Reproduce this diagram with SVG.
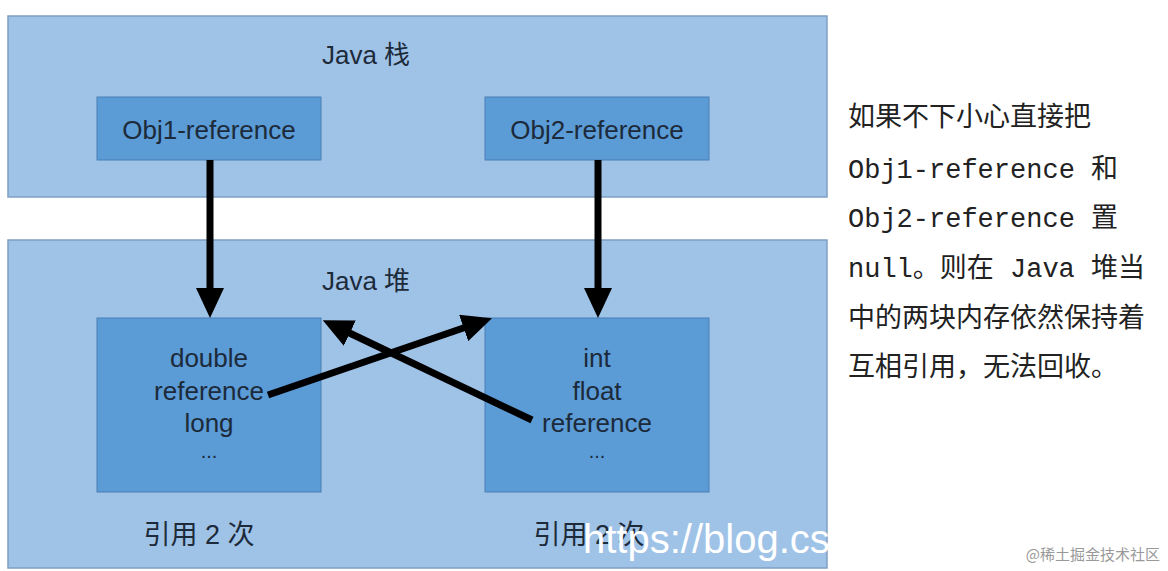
<svg xmlns="http://www.w3.org/2000/svg" width="1168" height="571" viewBox="0 0 1168 571">
<defs>
<style>
.panel{fill:#9fc2e7;stroke:#7f9fc4;stroke-width:1.5}
.box{fill:#5b9bd6;stroke:#4a7fb5;stroke-width:1}
.t{font-family:"Liberation Sans","Noto Sans CJK SC",sans-serif;fill:#1c2a3a;text-anchor:middle}
.conn{stroke:#000;stroke-width:7;fill:none}
.mono{font-family:"Liberation Mono","Noto Sans CJK SC",monospace;font-size:27px;fill:#222}
.cjk{font-family:"Noto Sans CJK SC",sans-serif;font-size:27px;fill:#222}
</style>
<marker id="ah" markerWidth="30" markerHeight="28" refX="12" refY="14" orient="auto" markerUnits="userSpaceOnUse">
<path d="M0,0 L30,14 L0,28 z" fill="#000"/>
</marker>
</defs>
<rect width="1168" height="571" fill="#fff"/>
<g id="stack-panel">
<rect class="panel" x="8" y="16" width="819" height="181"/>
<text class="t" x="366" y="64" font-size="26">Java 栈</text>
</g>
<g id="heap-panel">
<rect class="panel" x="8" y="240" width="819" height="328"/>
<text class="t" x="366" y="290" font-size="26">Java 堆</text>
</g>
<g id="obj1-ref">
<rect class="box" x="97" y="97" width="224" height="63"/>
<text class="t" x="209" y="139" font-size="26">Obj1-reference</text>
</g>
<g id="obj2-ref">
<rect class="box" x="485" y="97" width="224" height="63"/>
<text class="t" x="597" y="139" font-size="26">Obj2-reference</text>
</g>
<g id="heap-obj1">
<rect class="box" x="97" y="318" width="224" height="174"/>
<text class="t" x="209" y="367" font-size="26">double</text>
<text class="t" x="209" y="400" font-size="26">reference</text>
<text class="t" x="209" y="432" font-size="26">long</text>
<text class="t" x="209" y="458" font-size="20">...</text>
</g>
<g id="heap-obj2">
<rect class="box" x="485" y="318" width="224" height="174"/>
<text class="t" x="597" y="367" font-size="26">int</text>
<text class="t" x="597" y="400" font-size="26">float</text>
<text class="t" x="597" y="432" font-size="26">reference</text>
<text class="t" x="597" y="458" font-size="20">...</text>
</g>
<g id="connectors">
<line class="conn" x1="210" y1="160" x2="210" y2="300" marker-end="url(#ah)"/>
<line class="conn" x1="598" y1="160" x2="598" y2="300" marker-end="url(#ah)"/>
<line class="conn" stroke-width="8" x1="268" y1="395" x2="475" y2="324" marker-end="url(#ah)"/>
<line class="conn" stroke-width="8" x1="532" y1="420" x2="339" y2="328" marker-end="url(#ah)"/>
</g>
<g id="labels">
<text class="t" x="199" y="544" font-size="27">引用 2 次</text>
<text class="t" x="589" y="544" font-size="27">引用 2 次</text>
<text x="583" y="553" font-family="Liberation Sans,sans-serif" font-size="40" fill="#fff">https://blog.cs</text>
</g>
<g id="note">
<text class="cjk" x="848" y="126">如果不下小心直接把</text>
<text class="mono" x="848" y="178">Obj1-reference 和</text>
<text class="mono" x="848" y="227">Obj2-reference 置</text>
<text class="mono" x="848" y="277">null。则在 Java 堆当</text>
<text class="cjk" x="848" y="327">中的两块内存依然保持着</text>
<text class="cjk" x="848" y="376">互相引用，无法回收。</text>
</g>
<text x="1160" y="560" font-family="Noto Sans CJK SC,sans-serif" font-size="15" fill="#999" text-anchor="end">@稀土掘金技术社区</text>
</svg>
